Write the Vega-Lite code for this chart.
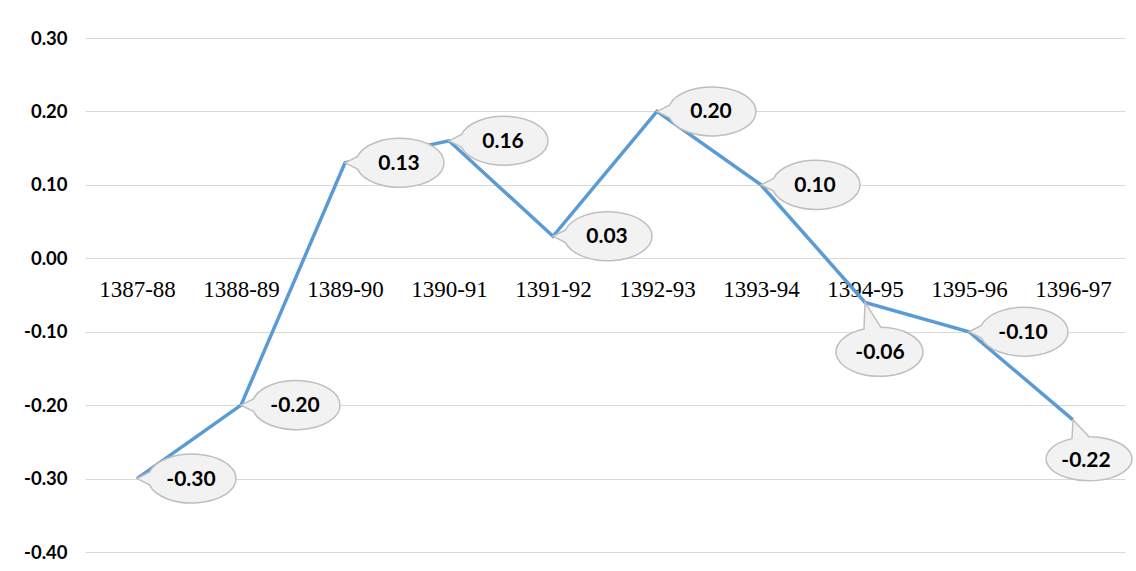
{
  "$schema": "https://vega.github.io/schema/vega-lite/v6.json",
  "width": 1040,
  "height": 514,
  "autosize": "none",
  "padding": {"left": 85, "top": 38, "right": 11, "bottom": 19},
  "background": "#FFFFFF",
  "config": {
    "view": {"stroke": null},
    "locale": {"number": {"decimal": ".", "thousands": ",", "grouping": [3], "currency": ["$", ""], "minus": "-"}}
  },
  "data": {
    "values": [
      {"period": "1387-88", "value": -0.30},
      {"period": "1388-89", "value": -0.20},
      {"period": "1389-90", "value": 0.13},
      {"period": "1390-91", "value": 0.16},
      {"period": "1391-92", "value": 0.03},
      {"period": "1392-93", "value": 0.20},
      {"period": "1393-94", "value": 0.10},
      {"period": "1394-95", "value": -0.06},
      {"period": "1395-96", "value": -0.10},
      {"period": "1396-97", "value": -0.22}
    ]
  },
  "encoding": {
    "x": {
      "field": "period",
      "type": "ordinal",
      "sort": null,
      "scale": {"type": "point", "padding": 0.5},
      "axis": {
        "orient": "bottom",
        "offset": -293,
        "title": null,
        "labelAngle": 0,
        "labelFont": "Liberation Serif, DejaVu Serif, serif",
        "labelFontSize": 23,
        "labelFontWeight": "normal",
        "labelColor": "#000000",
        "labelPadding": 19,
        "domain": false,
        "ticks": false,
        "grid": false
      }
    },
    "y": {
      "field": "value",
      "type": "quantitative",
      "scale": {"domain": [-0.4, 0.3], "nice": false, "zero": false},
      "axis": {
        "title": null,
        "values": [-0.4, -0.3, -0.2, -0.1, 0, 0.1, 0.2, 0.3],
        "format": ".2f",
        "labelFont": "Lato",
        "labelFontWeight": "bold",
        "labelFontSize": 18.5,
        "labelColor": "#000000",
        "labelPadding": 18,
        "domain": false,
        "ticks": false,
        "grid": true,
        "gridColor": "#D9D9D9",
        "gridWidth": 1
      }
    }
  },
  "layer": [
    {"mark": {"type": "line", "color": "#5B9BD5", "strokeWidth": 3.5}},
    {
      "transform": [{"filter": "datum.period != '1394-95' && datum.period != '1396-97'"}],
      "mark": {"type": "point", "shape": "M0,0L0.25,-0.126A0.88,0.49 0 1,1 0.25,0.126Z", "size": 10000, "filled": true, "fill": "#F2F2F2", "stroke": "#BFBFBF", "strokeWidth": 1.5, "opacity": 1}
    },
    {
      "transform": [{"filter": "datum.period == '1394-95'"}],
      "mark": {"type": "point", "shape": "M0,0L-0.02,0.532A0.87,0.49 0 1,0 0.32,0.5Z", "size": 10000, "filled": true, "fill": "#F2F2F2", "stroke": "#BFBFBF", "strokeWidth": 1.5, "opacity": 1}
    },
    {
      "transform": [{"filter": "datum.period == '1396-97'"}],
      "mark": {"type": "point", "shape": "M0,0L-0.02,0.376A0.86,0.44 0 1,0 0.32,0.34Z", "size": 10000, "filled": true, "fill": "#F2F2F2", "stroke": "#BFBFBF", "strokeWidth": 1.5, "opacity": 1}
    },
    {
      "transform": [{"filter": "datum.period != '1394-95' && datum.period != '1396-97'"}],
      "mark": {"type": "text", "font": "Lato", "fontWeight": "bold", "fontSize": 21, "color": "#000000", "align": "center", "baseline": "middle", "dx": 54, "dy": 1},
      "encoding": {"text": {"field": "value", "type": "quantitative", "format": ".2f"}}
    },
    {
      "transform": [{"filter": "datum.period == '1394-95'"}],
      "mark": {"type": "text", "font": "Lato", "fontWeight": "bold", "fontSize": 21, "color": "#000000", "align": "center", "baseline": "middle", "dx": 15, "dy": 51},
      "encoding": {"text": {"field": "value", "type": "quantitative", "format": ".2f"}}
    },
    {
      "transform": [{"filter": "datum.period == '1396-97'"}],
      "mark": {"type": "text", "font": "Lato", "fontWeight": "bold", "fontSize": 21, "color": "#000000", "align": "center", "baseline": "middle", "dx": 13, "dy": 41},
      "encoding": {"text": {"field": "value", "type": "quantitative", "format": ".2f"}}
    }
  ]
}
